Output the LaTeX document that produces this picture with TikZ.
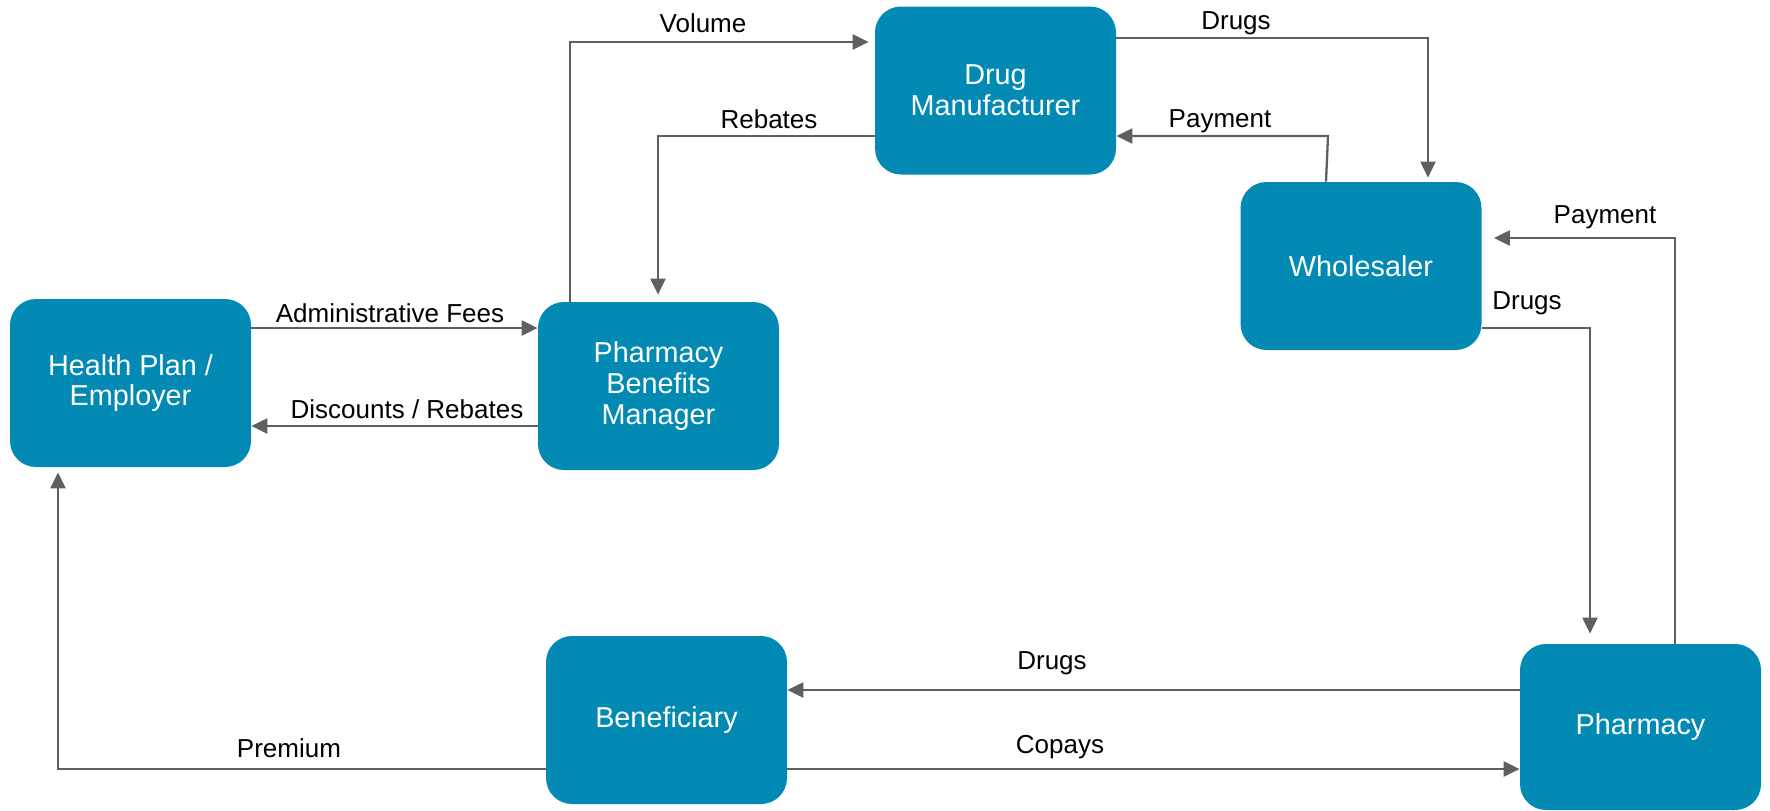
\documentclass[tikz,border=0pt]{standalone}
\usepackage{fontspec}
\setmainfont{Liberation Sans}
\usetikzlibrary{arrows.meta}
\definecolor{boxblue}{HTML}{0289B4}
\definecolor{linegray}{HTML}{5F5F5F}
\begin{document}
\begin{tikzpicture}[x=0.5pt,y=-0.5pt,
  box/.style={draw=none,fill=boxblue,rounded corners=13pt,minimum width=120.5pt,minimum height=84pt,
    text=white,align=center,font=\fontsize{14.4}{15.4}\selectfont,inner sep=0pt},
  flow/.style={draw=linegray,line width=1.15pt,-{Triangle[length=8pt,width=7.5pt]}},
  lbl/.style={font=\fontsize{13}{15}\selectfont,text=black,inner sep=0pt}]
\useasboundingbox (0,0) rectangle (1770,810);
% boxes
\node[box] (HP)  at (130.5,383)  {Health Plan /\\Employer};
\node[box] (PBM) at (658.5,386)  {Pharmacy\\Benefits\\Manager};
\node[box] (DM)  at (995.5,90.5) {Drug\\Manufacturer};
\node[box] (WS)  at (1361,266)   {Wholesaler};
\node[box] (BEN) at (666.5,720)  {Beneficiary};
\node[box,minimum height=83pt] (PH) at (1640.5,727) {Pharmacy};
% named bend points
\coordinate (vol1) at (570,42);
\coordinate (reb1) at (658,136);
\coordinate (dru1) at (1428,38);
\coordinate (pay1) at (1328,136);
\coordinate (pay2) at (1675,238);
\coordinate (dru2) at (1590,328);
\coordinate (pre1) at (58,769);
% connectors
\draw[flow] (HP.east |- 0,328) -- (PBM.west |- 0,328);
\draw[flow] (PBM.west |- 0,426) -- (HP.east |- 0,426);
\draw[flow,shorten >=3pt] (PBM.north -| vol1) -- (vol1) -- (DM.west |- vol1);
\draw[flow,shorten >=3.5pt] (DM.west |- reb1) -- (reb1) -- (reb1 |- PBM.north);
\draw[flow,shorten >=2pt] (DM.east |- dru1) -- (dru1) -- (dru1 |- WS.north);
\draw[flow] (WS.north -| 1326,0) -- (pay1) -- (DM.east |- pay1);
\draw[flow,shorten >=6pt] (PH.north -| pay2) -- (pay2) -- (WS.east |- pay2);
\draw[flow,shorten >=5pt] (WS.east |- dru2) -- (dru2) -- (dru2 |- PH.north);
\draw[flow] (PH.west |- 0,690) -- (BEN.east |- 0,690);
\draw[flow] (BEN.east |- 0,769) -- (PH.west |- 0,769);
\draw[flow,shorten >=2.5pt] (BEN.west |- pre1) -- (pre1) -- (pre1 |- HP.south);
% labels
\node[lbl] (l1)  at (703,23)   {Volume};
\node[lbl] (l2)  at (769,119)  {Rebates};
\node[lbl] (l3)  at (1236,23)  {Drugs};
\node[lbl] (l4)  at (1220,121) {Payment};
\node[lbl] (l5)  at (1605,217) {Payment};
\node[lbl] (l6)  at (1527,303) {Drugs};
\node[lbl] (l7)  at (390,313)  {Administrative Fees};
\node[lbl] (l8)  at (407,409)  {Discounts / Rebates};
\node[lbl] (l9)  at (1052,663) {Drugs};
\node[lbl] (l10) at (1060,747) {Copays};
\node[lbl] (l11) at (289,748)  {Premium};
\end{tikzpicture}
\end{document}
